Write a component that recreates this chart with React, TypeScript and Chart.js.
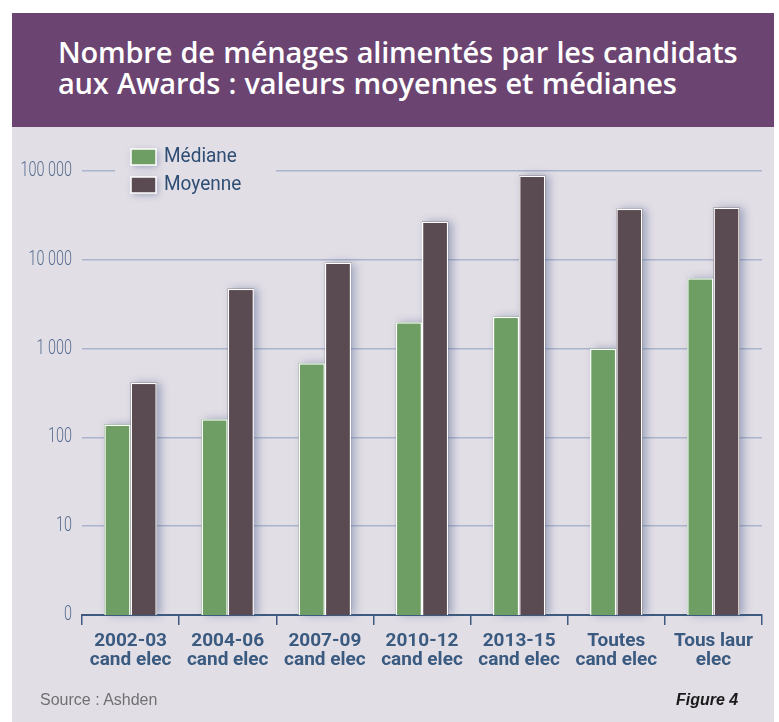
import React, { useEffect, useRef } from "react";
import { Chart, registerables } from "chart.js";

Chart.register(...registerables);

const CATEGORIES: string[][] = [
  ["2002-03", "cand elec"],
  ["2004-06", "cand elec"],
  ["2007-09", "cand elec"],
  ["2010-12", "cand elec"],
  ["2013-15", "cand elec"],
  ["Toutes", "cand elec"],
  ["Tous laur", "elec"],
];
const MEDIANE: number[] = [140, 160, 683, 1980, 2290, 1000, 6200];
const MOYENNE: number[] = [413, 4730, 9300, 27000, 89000, 37500, 38800];
const Y_TICKS: number[] = [1, 10, 100, 1000, 10000, 100000];
const Y_TICK_LABELS: string[] = ["0", "10", "100", "1 000", "10 000", "100 000"];

const TITLE_LINES = [
  "Nombre de ménages alimentés par les candidats",
  "aux Awards : valeurs moyennes et médianes",
];

const GREEN = "#6e9e63";
const DARK = "#5a4a51";
const BG = "#e2dee6";
const PURPLE = "#6b4471";
const AXIS = "#3e5a7e";
const GRID = "#aab4cb";

const shadowPlugin = {
  id: "barShadow",
  beforeDatasetsDraw(chart: any) {
    const ctx = chart.ctx;
    ctx.save();
    ctx.shadowColor = "rgba(70, 95, 140, 0.45)";
    ctx.shadowBlur = 9;
    ctx.shadowOffsetX = 4;
    ctx.shadowOffsetY = 0;
    chart.data.datasets.forEach((ds: any, i: number) => {
      const meta = chart.getDatasetMeta(i);
      meta.data.forEach((el: any) => {
        const p = el.getProps(["x", "y", "base", "width"], true);
        ctx.fillStyle = ds.backgroundColor;
        ctx.fillRect(p.x - p.width / 2, p.y, p.width, p.base - p.y);
      });
    });
    ctx.restore();
  },
};

const yLabelsPlugin = {
  id: "yLabels",
  afterDraw(chart: any) {
    const ctx = chart.ctx;
    const s = chart.scales.y;
    ctx.save();
    ctx.fillStyle = "#566d8e";
    ctx.font = "300 20px Roboto, sans-serif";
    ctx.textAlign = "right";
    ctx.textBaseline = "middle";
    Y_TICKS.forEach((v, i) => {
      const y = s.getPixelForValue(v);
      ctx.save();
      ctx.translate(s.right - 10, y);
      ctx.scale(0.72, 1);
      ctx.fillText(Y_TICK_LABELS[i], 0, 0);
      ctx.restore();
    });
    ctx.restore();
  },
};

const legendPlugin = {
  id: "customLegend",
  afterDraw(chart: any) {
    const ctx = chart.ctx;
    const a = chart.chartArea;
    const x0 = a.left + 33;
    ctx.save();
    ctx.fillStyle = BG;
    ctx.fillRect(x0, a.top - 4, 161, 8);
    chart.data.datasets.forEach((ds: any, i: number) => {
      const bx = a.left + 49;
      const by = a.top - 22 + i * 28;
      ctx.save();
      ctx.shadowColor = "rgba(70, 95, 140, 0.45)";
      ctx.shadowBlur = 7;
      ctx.shadowOffsetX = 2;
      ctx.shadowOffsetY = 2;
      ctx.fillStyle = ds.backgroundColor;
      ctx.fillRect(bx, by, 25, 16);
      ctx.restore();
      ctx.strokeStyle = "#ffffff";
      ctx.lineWidth = 1.5;
      ctx.strokeRect(bx, by, 25, 16);
      ctx.fillStyle = "#2e4e73";
      ctx.font = "20px Roboto, sans-serif";
      ctx.textBaseline = "middle";
      ctx.textAlign = "left";
      ctx.save();
      ctx.translate(bx + 33, by + 8);
      ctx.scale(0.95, 1);
      ctx.fillText(ds.label, 0, 0);
      ctx.restore();
    });
    ctx.restore();
  },
};

export default function App() {
  const ref = useRef<HTMLCanvasElement>(null);
  useEffect(() => {
    if (!ref.current) return;
    const chart = new Chart(ref.current, {
      type: "bar",
      data: {
        labels: CATEGORIES,
        datasets: [
          {
            label: "Médiane",
            data: MEDIANE,
            backgroundColor: GREEN,
            borderColor: "#ffffff",
            borderWidth: { top: 1.5, left: 1.5, right: 1.5, bottom: 0 },
            borderSkipped: "bottom",
            categoryPercentage: 0.54,
            barPercentage: 1.0,
          },
          {
            label: "Moyenne",
            data: MOYENNE,
            backgroundColor: DARK,
            borderColor: "#ffffff",
            borderWidth: { top: 1.5, left: 1.5, right: 1.5, bottom: 0 },
            borderSkipped: "bottom",
            categoryPercentage: 0.54,
            barPercentage: 1.0,
          },
        ],
      },
      options: {
        responsive: false,
        animation: false,
        layout: { padding: { left: 0, top: 171, right: 17, bottom: 47 } },
        plugins: {
          legend: { display: false },
          tooltip: { enabled: false },
          title: { display: false },
        },
        scales: {
          x: {
            grid: {
              offset: true,
              drawOnChartArea: false,
              drawTicks: true,
              tickLength: 10,
              color: AXIS,
              lineWidth: 1.5,
            },
            border: { display: true, color: AXIS, width: 2 },
            ticks: {
              color: "#3a5a80",
              font: { family: "Roboto, sans-serif", size: 19, weight: "bold", lineHeight: 1.0 },
              padding: 7,
              maxRotation: 0,
              autoSkip: false,
            },
            afterFit: (s: any) => {
              s.height = 60;
            },
          },
          y: {
            type: "logarithmic",
            min: 1,
            max: 100000,
            grid: { color: GRID, lineWidth: 1.5, drawTicks: false },
            border: { display: false },
            afterBuildTicks: (s: any) => {
              s.ticks = Y_TICKS.map((v) => ({ value: v }));
            },
            ticks: { display: false },
            afterFit: (s: any) => {
              s.width = 82;
            },
          },
        },
      },
      plugins: [shadowPlugin, yLabelsPlugin, legendPlugin],
    } as any);
    return () => chart.destroy();
  }, []);

  return (
    <div style={{ position: "absolute", left: 0, top: 0, width: 779, height: 722, background: "#ffffff", overflow: "hidden" }}>
      <div style={{ position: "absolute", left: 12, top: 13, width: 762, height: 114, background: PURPLE }} />
      <div style={{ position: "absolute", left: 12, top: 127, width: 762, height: 595, background: BG }} />
      <div
        style={{
          position: "absolute",
          left: 58,
          top: 36,
          color: "#ffffff",
          fontFamily: "'Open Sans', sans-serif",
          fontWeight: 600,
          fontSize: 29,
          lineHeight: "31px",
          letterSpacing: "-0.2px",
          wordSpacing: "1px",
          whiteSpace: "nowrap",
        }}
      >
        {TITLE_LINES.map((t, i) => (
          <div key={i}>{t}</div>
        ))}
      </div>
      <canvas ref={ref} width={779} height={722} style={{ position: "absolute", left: 0, top: 0 }} />
      <div
        style={{
          position: "absolute",
          left: 40,
          top: 691,
          fontFamily: "'Liberation Sans', sans-serif",
          fontSize: 16,
          lineHeight: "18px",
          color: "#707070",
        }}
      >
        Source : Ashden
      </div>
      <div
        style={{
          position: "absolute",
          left: 676,
          top: 691,
          fontFamily: "'Liberation Sans', sans-serif",
          fontSize: 16,
          lineHeight: "18px",
          fontStyle: "italic",
          fontWeight: "bold",
          color: "#1a1a1a",
        }}
      >
        Figure 4
      </div>
    </div>
  );
}
